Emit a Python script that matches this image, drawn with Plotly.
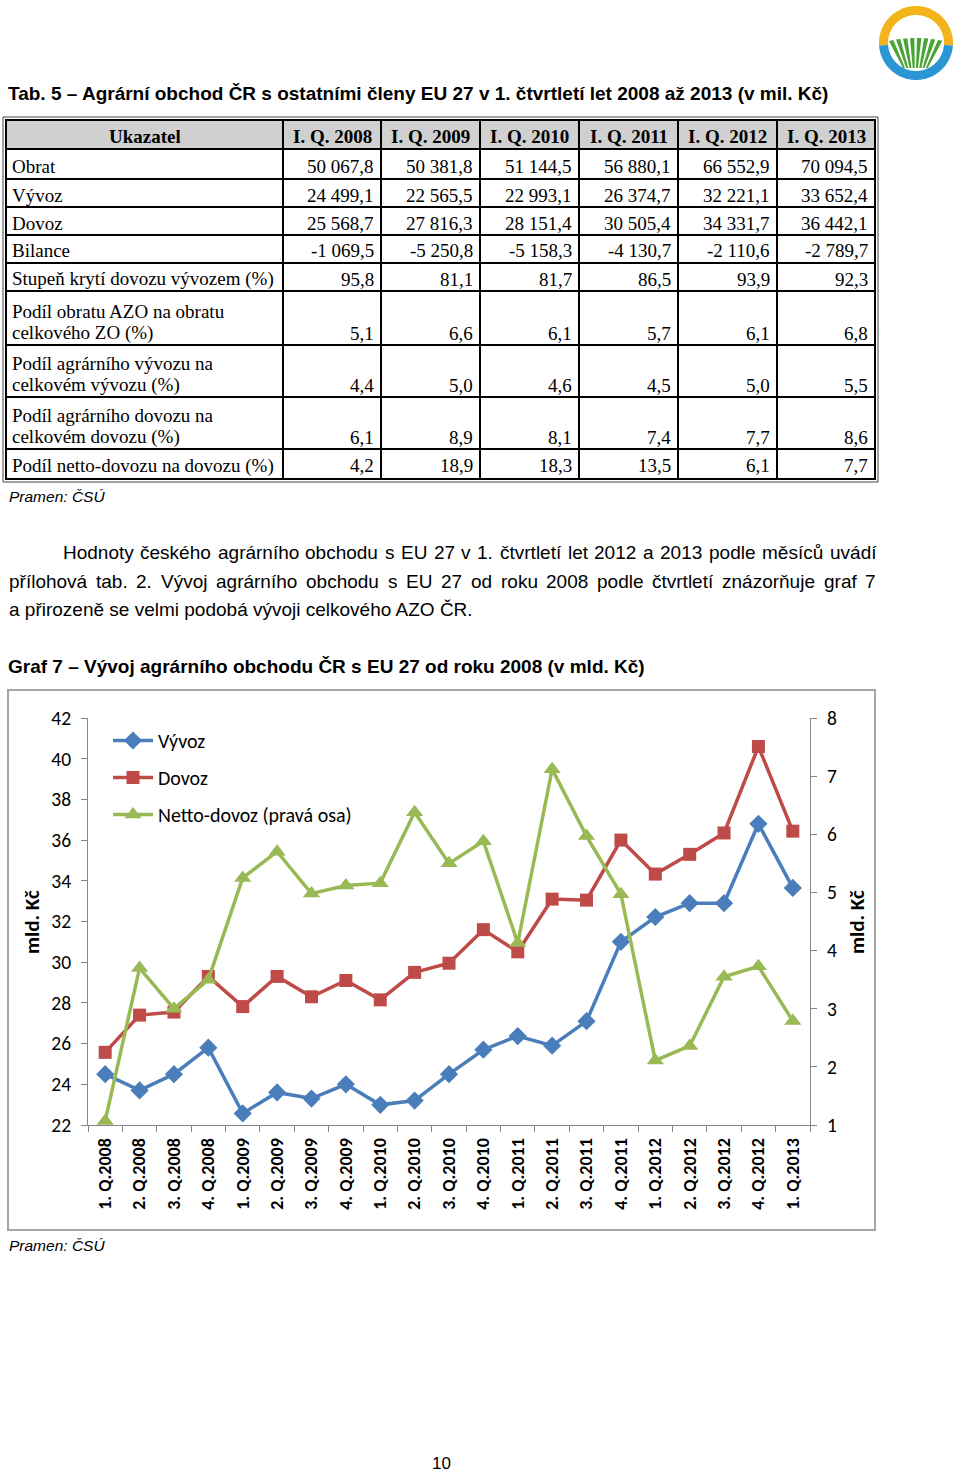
import unicodedata
import numpy as np
import plotly.graph_objects as go

# ---------------- DATA ----------------
quarters = ["1. Q.2008", "2. Q.2008", "3. Q.2008", "4. Q.2008",
            "1. Q.2009", "2. Q.2009", "3. Q.2009", "4. Q.2009",
            "1. Q.2010", "2. Q.2010", "3. Q.2010", "4. Q.2010",
            "1. Q.2011", "2. Q.2011", "3. Q.2011", "4. Q.2011",
            "1. Q.2012", "2. Q.2012", "3. Q.2012", "4. Q.2012",
            "1. Q.2013"]
vyvoz = [24.5, 23.7, 24.5, 25.8, 22.57, 23.6, 23.3, 24.0, 22.99, 23.2, 24.5, 25.7,
         26.37, 25.9, 27.1, 31.0, 32.22, 32.9, 32.9, 36.8, 33.65]
dovoz = [25.57, 27.4, 27.55, 29.3, 27.82, 29.3, 28.3, 29.1, 28.15, 29.5, 29.95, 31.6,
         30.51, 33.1, 33.05, 36.0, 34.33, 35.3, 36.35, 40.6, 36.44]
netto = [1.07, 3.7, 3.0, 3.5, 5.25, 5.7, 4.98, 5.12, 5.16, 6.38, 5.5, 5.88,
         4.13, 7.12, 5.97, 4.97, 2.11, 2.36, 3.55, 3.73, 2.79]

left_ticks = [22, 24, 26, 28, 30, 32, 34, 36, 38, 40, 42]
right_ticks = [1, 2, 3, 4, 5, 6, 7, 8]

table_header = ["Ukazatel", "I. Q. 2008", "I. Q. 2009", "I. Q. 2010",
                "I. Q. 2011", "I. Q. 2012", "I. Q. 2013"]
row_labels = [["Obrat"], ["Vývoz"], ["Dovoz"], ["Bilance"],
              ["Stupeň krytí dovozu vývozem (%)"],
              ["Podíl obratu AZO na obratu", "celkového ZO (%)"],
              ["Podíl agrárního vývozu na", "celkovém vývozu (%)"],
              ["Podíl agrárního dovozu na", "celkovém dovozu (%)"],
              ["Podíl netto-dovozu na dovozu (%)"]]
row_obrat = ["50 067,8", "50 381,8", "51 144,5", "56 880,1", "66 552,9", "70 094,5"]
row_vyvoz = ["24 499,1", "22 565,5", "22 993,1", "26 374,7", "32 221,1", "33 652,4"]
row_dovoz = ["25 568,7", "27 816,3", "28 151,4", "30 505,4", "34 331,7", "36 442,1"]
row_bilance = ["-1 069,5", "-5 250,8", "-5 158,3", "-4 130,7", "-2 110,6", "-2 789,7"]
row_kryti = ["95,8", "81,1", "81,7", "86,5", "93,9", "92,3"]
row_podil_obrat = ["5,1", "6,6", "6,1", "5,7", "6,1", "6,8"]
row_podil_vyvoz = ["4,4", "5,0", "4,6", "4,5", "5,0", "5,5"]
row_podil_dovoz = ["6,1", "8,9", "8,1", "7,4", "7,7", "8,6"]
row_podil_netto = ["4,2", "18,9", "18,3", "13,5", "6,1", "7,7"]
table_values = [row_obrat, row_vyvoz, row_dovoz, row_bilance, row_kryti,
                row_podil_obrat, row_podil_vyvoz, row_podil_dovoz, row_podil_netto]

title_tab = "Tab. 5 – Agrární obchod ČR s ostatními členy EU 27 v 1. čtvrtletí let 2008 až 2013 (v mil. Kč)"
para_lines = ["Hodnoty českého agrárního obchodu s EU 27 v 1. čtvrtletí let 2012 a 2013 podle měsíců uvádí",
              "přílohová tab. 2. Vývoj agrárního obchodu s EU 27 od roku 2008 podle čtvrtletí znázorňuje graf 7",
              "a přirozeně se velmi podobá vývoji celkového AZO ČR."]
title_graf = "Graf 7 – Vývoj agrárního obchodu ČR s EU 27 od roku 2008 (v mld. Kč)"
source = "Pramen: ČSÚ"
page_no = "10"

# ---------------- LAYOUT HELPERS ----------------
W, H = 960, 1475
def px(x):
    return x / W
def py(y):
    return 1 - y / H

SANS = "Liberation Sans, Arial, sans-serif"
SERIF = "Liberation Serif, Times New Roman, serif"
CAL = "Carlito, Lato, Open Sans, sans-serif"

# Arial / Liberation Sans advance widths (1/1000 em), used to justify paragraph lines
AW = {" ": 278, ".": 278, ",": 278, "(": 333, ")": 333, "-": 333, ":": 278, "–": 556,
      "a": 556, "b": 556, "c": 500, "d": 556, "e": 556, "f": 278, "g": 556, "h": 556,
      "i": 222, "j": 222, "k": 500, "l": 222, "m": 833, "n": 556, "o": 556, "p": 556,
      "q": 556, "r": 333, "s": 500, "t": 278, "u": 556, "v": 500, "w": 722, "x": 500,
      "y": 500, "z": 500, "A": 667, "B": 667, "C": 722, "D": 722, "E": 667, "F": 611,
      "G": 778, "H": 722, "I": 278, "J": 500, "K": 667, "L": 556, "M": 833, "N": 722,
      "O": 778, "P": 667, "Q": 778, "R": 722, "S": 667, "T": 611, "U": 722, "V": 667,
      "W": 944, "X": 667, "Y": 667, "Z": 611}
def char_w(ch):
    if ch.isdigit():
        return 556
    if ch in AW:
        return AW[ch]
    if ch in "íìîï":
        return 278
    base = unicodedata.normalize("NFD", ch)[0]
    return AW.get(base, 556)
def text_w(s, size):
    return sum(char_w(c) for c in s) / 1000 * size

fig = go.Figure()

BLUE = "#4A7EBB"
RED = "#BE4B48"
GREEN = "#98B954"

fig.add_trace(go.Scatter(x=quarters, y=vyvoz, name="Vývoz", mode="lines+markers",
                         line=dict(color=BLUE, width=3.5),
                         marker=dict(symbol="diamond", size=14, color=BLUE),
                         legendgroup="a"))
fig.add_trace(go.Scatter(x=quarters, y=dovoz, name="Dovoz", mode="lines+markers",
                         line=dict(color=RED, width=3.5),
                         marker=dict(symbol="square", size=13, color=RED),
                         legendgroup="b"))
fig.add_trace(go.Scatter(x=quarters, y=netto, name="Netto-dovoz (pravá osa)", mode="lines+markers",
                         line=dict(color=GREEN, width=3.5),
                         marker=dict(symbol="triangle-up", size=15, color=GREEN),
                         legendgroup="c", yaxis="y2"))

plot_l, plot_r, plot_t, plot_b = 88, 810, 718, 1125

fig.update_layout(
    width=W, height=H,
    margin=dict(l=0, r=0, t=0, b=0, autoexpand=False),
    paper_bgcolor="white", plot_bgcolor="white",
    showlegend=True,
    legend=dict(x=px(108), y=py(721), xanchor="left", yanchor="top",
                font=dict(family=CAL, size=20, color="#000"),
                bgcolor="rgba(0,0,0,0)", tracegroupgap=8, itemwidth=40),
    xaxis=dict(domain=[px(plot_l), px(plot_r)], type="category",
               showgrid=False, zeroline=False, showline=True, linecolor="#868686", linewidth=1,
               ticks="outside", ticklen=6, tickcolor="#868686", tickson="boundaries",
               tickangle=-90, tickfont=dict(family=CAL, size=18, color="#000", weight="bold"),
               ticklabelstandoff=5, range=[-0.5, 20.5], automargin=False),
    yaxis=dict(domain=[py(plot_b), py(plot_t)], range=[22, 42], tickvals=left_ticks,
               showgrid=False, zeroline=False, showline=True, linecolor="#868686", linewidth=1,
               ticks="outside", ticklen=6, tickcolor="#868686", automargin=False,
               tickfont=dict(family=CAL, size=19.5, color="#000"), ticklabelstandoff=6),
    yaxis2=dict(overlaying="y", side="right", anchor="x", range=[1, 8], tickvals=right_ticks,
                showgrid=False, zeroline=False, showline=True, linecolor="#868686", linewidth=1,
                ticks="outside", ticklen=6, tickcolor="#868686", automargin=False,
                tickfont=dict(family=CAL, size=19.5, color="#000"), ticklabelstandoff=6),
)

shapes = []
annotations = []

def ann(text, x, y, size, family=SANS, xanchor="left", yanchor="middle", bold=False,
        italic=False, angle=0, color="#000"):
    annotations.append(dict(text=text, x=px(x), y=py(y), xref="paper", yref="paper",
                            xanchor=xanchor, yanchor=yanchor, showarrow=False,
                            textangle=angle, borderpad=0,
                            font=dict(family=family, size=size, color=color,
                                      weight="bold" if bold else "normal",
                                      style="italic" if italic else "normal")))

def line(x0, y0, x1, y1, color="#000", width=2):
    shapes.append(dict(type="line", xref="paper", yref="paper",
                       x0=px(x0), y0=py(y0), x1=px(x1), y1=py(y1),
                       line=dict(color=color, width=width)))

def rect(x0, y0, x1, y1, color="#000", width=1, fill="rgba(0,0,0,0)"):
    shapes.append(dict(type="rect", xref="paper", yref="paper",
                       x0=px(x0), y0=py(y0), x1=px(x1), y1=py(y1),
                       line=dict(color=color, width=width), fillcolor=fill))

def poly(pts, fill, layer="above"):
    d = "M " + " L ".join(f"{px(a):.5f},{py(b):.5f}" for a, b in pts) + " Z"
    shapes.append(dict(type="path", xref="paper", yref="paper", path=d,
                       fillcolor=fill, line=dict(width=0), layer=layer))

def justified(text, x0, x1, y, size):
    words = text.split(" ")
    widths = [text_w(w, size) for w in words]
    gap = (x1 - x0 - sum(widths)) / (len(words) - 1)
    x = x0
    for w, wd in zip(words, widths):
        ann(w, x, y, size)
        x += wd + gap

# ---------------- LOGO ----------------
cx, cy, ro, ri = 916, 43, 37, 28
def arc(a0, a1, n=40):
    t = np.linspace(np.radians(a0), np.radians(a1), n)
    outer = [(cx + ro * np.cos(a), cy - ro * np.sin(a)) for a in t]
    inner = [(cx + ri * np.cos(a), cy - ri * np.sin(a)) for a in t[::-1]]
    return outer + inner
poly(arc(-4, 184), "#F2B31B")
poly(arc(184, 356), "#2A96D4")
n_str = 8
for i in range(n_str):
    f0 = i / n_str
    f1 = (i + 0.62) / n_str
    xt0, xt1 = 889 + 56 * f0, 889 + 56 * f1
    xb0, xb1 = 903 + 26 * f0, 903 + 26 * f1
    ytop = lambda xx: 38 + 0.004 * (xx - 916) ** 2
    poly([(xt0, ytop(xt0)), (xt1, ytop(xt1)), (xb1, 68), (xb0, 68)], "#4BA437")

# ---------------- TITLE ----------------
ann(title_tab, 7, 94, 19, bold=True)

# ---------------- TABLE ----------------
cols_x = [6, 283, 381, 480, 579, 678, 777, 875]
rows_y = [120, 149, 179, 207, 235, 263, 291, 345, 397, 449, 478]
rect(6, 120, 875, 149, color="#000", width=0, fill="#D0D0D0")
rect(3, 117, 878, 482, color="#444", width=1)
rect(6, 120, 875, 479, color="#000", width=2)
for x in cols_x[1:-1]:
    line(x, 120, x, 479)
for y in rows_y[1:-1]:
    line(6, y, 875, y)

for j, h in enumerate(table_header):
    xc = (cols_x[j] + cols_x[j + 1]) / 2
    ann(h, xc, 137, 19, family=SERIF, xanchor="center", bold=True)

for i, (lab, vals) in enumerate(zip(row_labels, table_values)):
    top, bot = rows_y[i + 1], rows_y[i + 2]
    if len(lab) == 1:
        yc = (top + bot) / 2 + 2
        ann(lab[0], 11, yc, 19, family=SERIF)
        yv = yc
    else:
        ann(lab[0], 11, bot - 34, 19, family=SERIF)
        ann(lab[1], 11, bot - 12, 19, family=SERIF)
        yv = bot - 12
    for j, v in enumerate(vals):
        ann(v, cols_x[j + 2] - 6, yv, 19, family=SERIF, xanchor="right")

ann(source, 8, 496, 15.5, italic=True)

# ---------------- PARAGRAPH ----------------
justified(para_lines[0], 62, 875, 552, 19)
justified(para_lines[1], 8, 875, 581, 19)
ann(para_lines[2], 8, 610, 19)
ann(title_graf, 7, 666, 19, bold=True)

# ---------------- CHART FRAME ----------------
rect(8, 690, 875, 1230, color="#A6A6A6", width=2)
ann("mld. Kč", 32, 922, 21, family=CAL, bold=True, angle=-90, xanchor="center")
ann("mld. Kč", 857, 922, 21, family=CAL, bold=True, angle=-90, xanchor="center")
ann(source, 8, 1245, 15.5, italic=True)

# page number
ann(page_no, 441, 1474, 17, xanchor="center", yanchor="bottom")

fig.update_layout(shapes=shapes, annotations=annotations)
fig.write_html("out.html", config={"displayModeBar": False},
               post_script="document.body.style.margin='0px';document.body.style.overflow='hidden';")
